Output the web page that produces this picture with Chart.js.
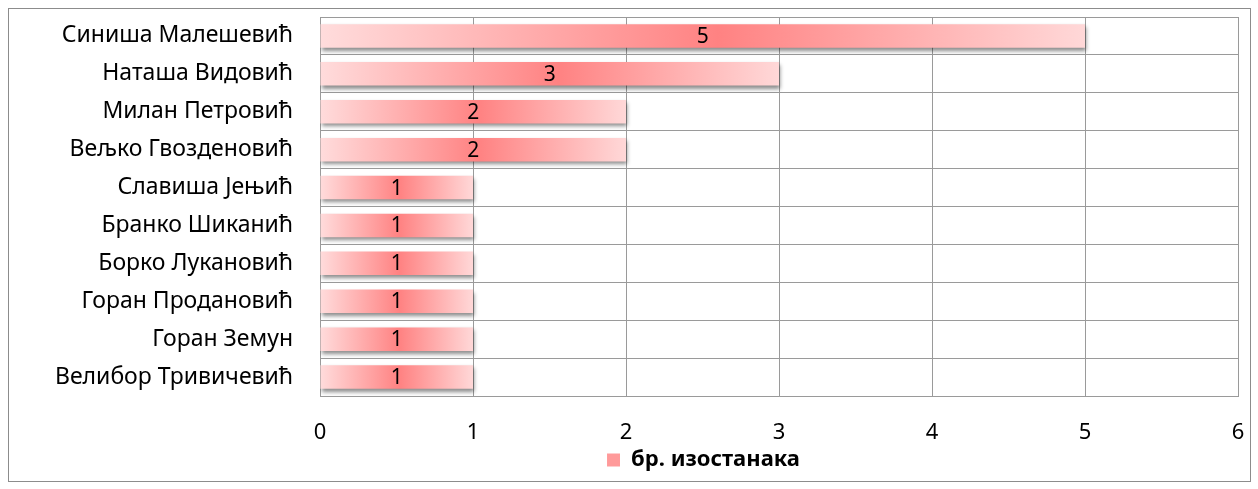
<!DOCTYPE html>
<html>
<head>
<meta charset="utf-8">
<script src="https://cdn.jsdelivr.net/npm/chart.js@4/dist/chart.umd.min.js"></script>
<style>
  html, body { margin: 0; padding: 0; background: #fff; }
  #frame { position: absolute; left: 8px; top: 8px; width: 1241px; height: 472px; border: 1px solid #8c8c8c; }
  #frame canvas { display: block; }
</style>
</head>
<body>
<div id="frame"><canvas id="barChart" width="1241" height="472"></canvas></div>
<script>
const names = ["Синиша Малешевић", "Наташа Видовић", "Милан Петровић", "Вељко Гвозденовић",
    "Славиша Јењић", "Бранко Шиканић", "Борко Лукановић", "Горан Продановић",
    "Горан Земун", "Велибор Тривичевић"];
const absences = [5, 3, 2, 2, 1, 1, 1, 1, 1, 1];
const seriesName = "бр. изостанака";

const fontFamily = "'Noto Sans', 'DejaVu Sans', sans-serif";

function barGradient(context) {
    let chart = context.chart;
    if (!chart.chartArea || context.type !== 'data') return '#ff9c9c';
    let x = chart.scales.x;
    let x0 = x.getPixelForValue(0);
    let x1 = x.getPixelForValue(context.raw);
    if (!isFinite(x0) || !isFinite(x1) || x1 === x0) return '#ff9c9c';
    let g = chart.ctx.createLinearGradient(x0, 0, x1, 0);
    g.addColorStop(0, '#ffdcdc');
    g.addColorStop(0.52, '#ff8282');
    g.addColorStop(1, '#ffd8d8');
    return g;
}

// soft shadow under the bars, like the office chart
const barShadow = {
    id: 'barShadow',
    beforeDatasetDraw(chart) {
        let c = chart.ctx;
        c.save();
        c.shadowColor = 'rgba(0,0,0,0.45)';
        c.shadowBlur = 4;
        c.shadowOffsetX = 1;
        c.shadowOffsetY = 3;
    },
    afterDatasetDraw(chart) {
        chart.ctx.restore();
    }
};

const barLabels = {
    id: 'barLabels',
    afterDatasetsDraw(chart) {
        let c = chart.ctx;
        let meta = chart.getDatasetMeta(0);
        c.save();
        c.font = "21px " + fontFamily;
        c.fillStyle = '#000';
        c.textAlign = 'center';
        c.textBaseline = 'middle';
        meta.data.forEach((bar, i) => {
            let v = chart.data.datasets[0].data[i];
            c.fillText(String(v), (bar.x + bar.base) / 2, bar.y + 1);
        });
        c.restore();
    }
};

// legend in the original sits a bit right of the centre
const legendShift = {
    id: 'legendShift',
    afterLayout(chart) {
        chart.legend.left += 80;
        chart.legend.right += 80;
    }
};

let ctx = document.getElementById("barChart").getContext("2d");
new Chart(ctx, {
    type: 'bar',
    data: {
        labels: names,
        datasets: [{
            label: seriesName,
            data: absences,
            backgroundColor: barGradient,
            borderWidth: 0,
            categoryPercentage: 1,
            barPercentage: 0.62
        }]
    },
    options: {
        indexAxis: 'y',
        responsive: false,
        animation: false,
        layout: { padding: { left: 0, right: 12, top: 8, bottom: 0 } },
        scales: {
            x: {
                min: 0,
                max: 6,
                ticks: { stepSize: 1, color: '#000', padding: 24, font: { family: fontFamily, size: 22 } },
                grid: { color: '#9a9a9a', drawTicks: false },
                border: { color: '#9a9a9a' },
                afterFit(scale) { scale.height = 51; scale.paddingLeft = 0; scale.paddingRight = 0; }
            },
            y: {
                ticks: { color: '#000', padding: 27, font: { family: fontFamily, size: 23 } },
                grid: { color: '#9a9a9a', offset: true, drawTicks: false },
                border: { color: '#9a9a9a' },
                afterFit(scale) { scale.width = 311; scale.paddingTop = 0; scale.paddingBottom = 0; }
            }
        },
        plugins: {
            legend: {
                position: 'bottom',
                labels: {
                    color: '#000',
                    boxWidth: 13,
                    boxHeight: 13,
                    padding: 2,
                    font: { family: fontFamily, size: 22, weight: 'bold' },
                    generateLabels(chart) {
                        return [{ text: seriesName, fillStyle: '#ff9a9a', strokeStyle: '#ff9a9a', lineWidth: 0, datasetIndex: 0 }];
                    }
                }
            },
            tooltip: { enabled: false }
        }
    },
    plugins: [barShadow, barLabels, legendShift]
});
</script>
</body>
</html>
